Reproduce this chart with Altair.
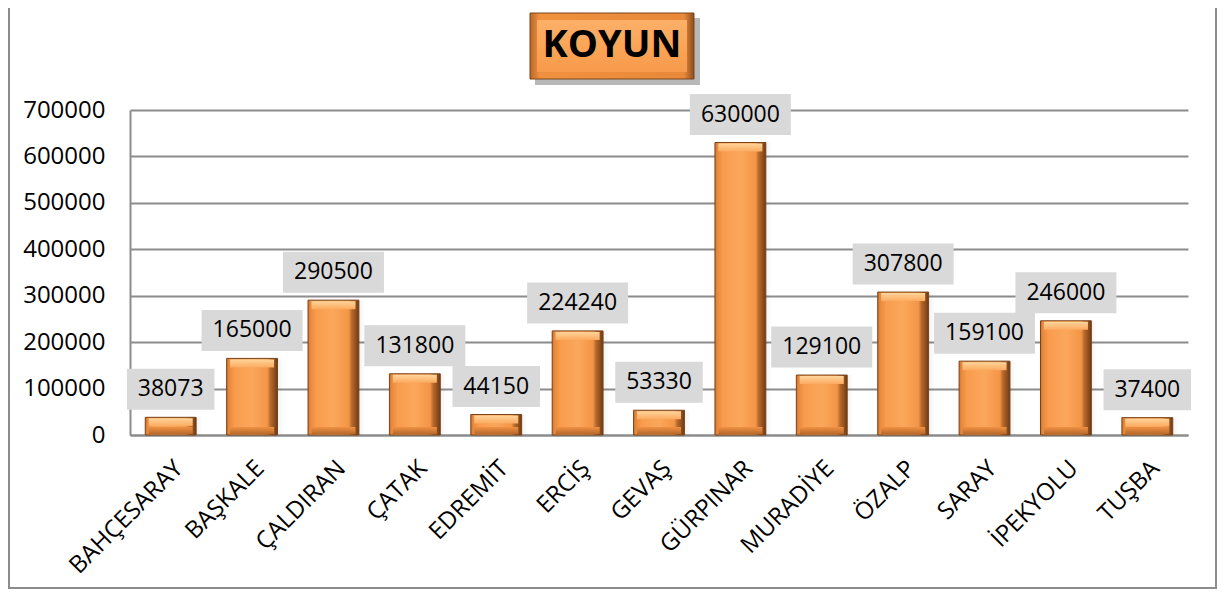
import altair as alt
import pandas as pd

# ---- data ----
districts = ["BAHÇESARAY", "BAŞKALE", "ÇALDIRAN", "ÇATAK", "EDREMİT", "ERCİŞ", "GEVAŞ",
             "GÜRPINAR", "MURADİYE", "ÖZALP", "SARAY", "İPEKYOLU", "TUŞBA"]
sheep = [38073, 165000, 290500, 131800, 44150, 224240, 53330,
         630000, 129100, 307800, 159100, 246000, 37400]
y_ticks = [0, 100000, 200000, 300000, 400000, 500000, 600000, 700000]
title_text = "KOYUN"

df = pd.DataFrame({"district": districts, "sheep": sheep})
title_df = pd.DataFrame({"label": [title_text]})

FONT = "Open Sans"
GRID = "#8c8c8c"

def grad(stops, vertical=False):
    return alt.LinearGradient(
        gradient="linear",
        stops=[alt.GradientStop(color=c, offset=o) for o, c in stops],
        x1=0, y1=0, x2=0 if vertical else 1, y2=1 if vertical else 0,
    )

x_enc = alt.X(
    "district:N", sort=districts, title=None,
    scale=alt.Scale(paddingInner=0.375, paddingOuter=0.1875),
    axis=alt.Axis(labelAngle=-45, labelAlign="right", labelBaseline="top",
                  labelPadding=21, labelFont=FONT, labelFontSize=24, labelColor="#000",
                  labelLimit=400, ticks=False, domainColor=GRID, domainWidth=2),
)
y_enc = alt.Y(
    "sheep:Q", title=None,
    scale=alt.Scale(domain=[0, 700000], nice=False),
    axis=alt.Axis(values=y_ticks, format="d", ticks=False, labelPadding=25,
                  labelFont=FONT, labelFontSize=24, labelColor="#000",
                  grid=True, gridColor=GRID, gridWidth=2,
                  domainColor=GRID, domainWidth=2),
)

base = alt.Chart(df)

shadow = base.mark_bar(
    xOffset=6,
    fill=grad([(0, "rgba(0,0,0,0.40)"), (0.6, "rgba(0,0,0,0.18)"), (1, "rgba(0,0,0,0)")]),
).encode(x=x_enc, y=y_enc)

bars = base.mark_bar(
    fill=grad([(0, "#c9702c"), (0.04, "#e8873a"), (0.16, "#f89c4e"), (0.5, "#fba75b"),
               (0.8, "#f39546"), (0.86, "#b8692c"), (0.95, "#8a4c1c"), (1, "#6a3912")]),
    stroke="#7a441a", strokeWidth=1,
).encode(x=x_enc, y=y_enc)

top_bevel = base.mark_tick(
    thickness=8, size=44, yOffset=5, opacity=1,
    fill=grad([(0, "#ffd49a"), (1, "#fbaa60")], vertical=True),
).encode(x=x_enc, y=alt.Y("sheep:Q"))

bottom_bevel = base.mark_tick(
    thickness=7, size=44, yOffset=-4.5, opacity=1,
    fill=grad([(0, "#ef9143"), (1, "#b86a2c")], vertical=True),
).encode(x=x_enc, y=alt.datum(0))

label_box = base.transform_calculate(
    boxw="length(toString(datum.sheep)) * 13.5 + 20"
).mark_tick(
    thickness=41, yOffset=-28, opacity=1, fill="#d9d9d9",
).encode(x=x_enc, y=alt.Y("sheep:Q"), size=alt.Size("boxw:Q", scale=None, legend=None))

label_text = base.mark_text(
    font=FONT, fontSize=23, color="#000", dy=-28, baseline="middle",
).encode(x=x_enc, y=alt.Y("sheep:Q"), text=alt.Text("sheep:Q", format="d"))

tb = alt.Chart(title_df)
title_shadow = tb.mark_rect(fill="#000", opacity=0.28).encode(
    x=alt.value(405), x2=alt.value(570), y=alt.value(-92), y2=alt.value(-25))
title_outer = tb.mark_rect(
    fill=grad([(0, "#b8682b"), (0.06, "#f0913f"), (0.94, "#e8883a"), (1, "#8a4c1c")]),
    stroke="#7a441a", strokeWidth=1,
).encode(x=alt.value(400), x2=alt.value(564), y=alt.value(-97), y2=alt.value(-31))
title_inner = tb.mark_rect(
    fill=grad([(0, "#fcb068"), (0.5, "#fba557"), (1, "#f79a4b")], vertical=True),
).encode(x=alt.value(407), x2=alt.value(557), y=alt.value(-90), y2=alt.value(-38))
title_label = tb.mark_text(
    font=FONT, fontSize=38, fontWeight="bold", color="#000", baseline="middle", align="center",
).encode(x=alt.value(482), y=alt.value(-64), text="label:N")

border = tb.mark_rect(fillOpacity=0, stroke=GRID, strokeWidth=2).encode(
    x=alt.value(-121), x2=alt.value(1086), y=alt.value(-130), y2=alt.value(478))

chart = alt.layer(
    shadow, bars, top_bevel, bottom_bevel, label_box, label_text,
    title_shadow, title_outer, title_inner, title_label, border,
).properties(
    width=1058, height=325,
    padding={"left": 122, "top": 102, "right": 29, "bottom": 155},
    autosize=alt.AutoSizeParams(type="none"),
    background="white",
).configure_view(stroke=None)

chart.save("out.html", embed_options={"renderer": "svg", "actions": False})
